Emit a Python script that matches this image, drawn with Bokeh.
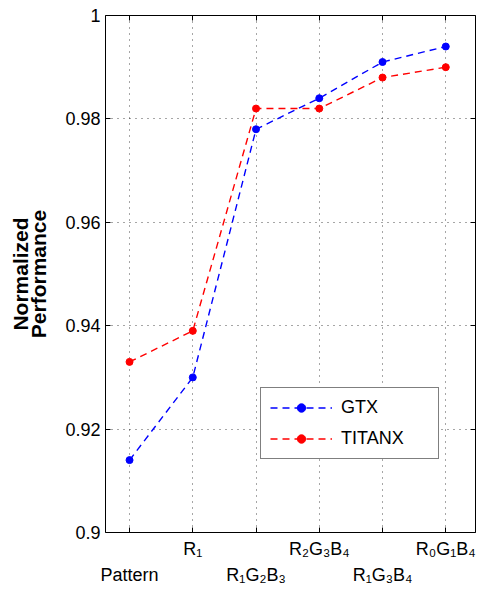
from bokeh.plotting import figure
from bokeh.models import Range1d, LinearAxis, FixedTicker, Legend, LegendItem, CustomJSTickFormatter, Grid
from bokeh.embed import file_html
from bokeh.resources import INLINE

# ---- data ----
patterns = ["Pattern", "R₁", "R₁G₂B₃", "R₂G₃B₄", "R₁G₃B₄", "R₀G₁B₄"]
gtx = [0.914, 0.930, 0.978, 0.984, 0.991, 0.994]
titanx = [0.933, 0.939, 0.982, 0.982, 0.988, 0.990]
y_ticks = [0.9, 0.92, 0.94, 0.96, 0.98, 1.0]
y_tick_labels = ["0.9", "0.92", "0.94", "0.96", "0.98", "1"]
series_names = ["GTX", "TITANX"]

x = list(range(1, len(patterns) + 1))
FONT = "Liberation Sans"
FS = "18px"

p = figure(width=477, height=591, output_backend="svg", toolbar_location=None,
           x_range=Range1d(0.62, 6.47), y_range=Range1d(0.9, 1.0),
           min_border_left=105, min_border_right=2, min_border_top=15, min_border_bottom=59,
           x_axis_type=None, y_axis_type=None)
p.outline_line_color = "black"
p.outline_line_width = 1
p.background_fill_color = "white"
p.border_fill_color = "white"

# upper-row x labels (main bottom axis, ticks at all positions)
upper = {xi: (lab if i % 2 == 1 else "") for i, (xi, lab) in enumerate(zip(x, patterns))}
lower = {xi: lab for i, (xi, lab) in enumerate(zip(x, patterns)) if i % 2 == 0}

xa = LinearAxis(ticker=FixedTicker(ticks=x), major_label_overrides=upper)
xa.axis_line_color = None
xa.major_tick_in = 5
xa.major_tick_out = 0
xa.major_tick_line_color = "black"
xa.minor_tick_line_color = None
xa.major_label_text_font = FONT
xa.major_label_text_font_size = FS
xa.major_label_text_color = "black"
xa.major_label_standoff = 6
p.add_layout(xa, "below")

xa2 = LinearAxis(ticker=FixedTicker(ticks=list(lower.keys())), major_label_overrides=lower)
xa2.axis_line_color = None
xa2.major_tick_line_color = None
xa2.minor_tick_line_color = None
xa2.major_tick_in = 0
xa2.major_tick_out = 0
xa2.major_label_text_font = FONT
xa2.major_label_text_font_size = FS
xa2.major_label_text_color = "black"
xa2.major_label_standoff = 3
p.add_layout(xa2, "below")

ya = LinearAxis(ticker=FixedTicker(ticks=y_ticks),
                major_label_overrides={t: l for t, l in zip(y_ticks, y_tick_labels)})
ya.axis_line_color = None
ya.major_tick_in = 5
ya.major_tick_out = 0
ya.minor_tick_line_color = None
ya.major_label_text_font = FONT
ya.major_label_text_font_size = FS
ya.major_label_text_color = "black"
ya.major_label_standoff = 5
ya.axis_label = "Normalized\nPerformance"
ya.axis_label_text_font = FONT
ya.axis_label_text_font_style = "bold"
ya.axis_label_text_font_size = "21px"
ya.axis_label_text_color = "black"
ya.axis_label_text_line_height = 0.82
ya.axis_label_standoff = 12
p.add_layout(ya, "left")

blank = CustomJSTickFormatter(code="return ''")
xt = LinearAxis(ticker=FixedTicker(ticks=x), formatter=blank)
xt.axis_line_color = None
xt.major_tick_in = 5
xt.major_tick_out = 0
xt.minor_tick_line_color = None
xt.major_label_standoff = 0
p.add_layout(xt, "above")
yr = LinearAxis(ticker=FixedTicker(ticks=y_ticks), formatter=blank)
yr.axis_line_color = None
yr.major_tick_in = 5
yr.major_tick_out = 0
yr.minor_tick_line_color = None
yr.major_label_standoff = 0
p.add_layout(yr, "right")

p.add_layout(Grid(dimension=0, ticker=xa.ticker, grid_line_color="black",
                  grid_line_dash="1 5", grid_line_width=1, grid_line_alpha=0.7))
p.add_layout(Grid(dimension=1, ticker=ya.ticker, grid_line_color="black",
                  grid_line_dash="1 5", grid_line_width=1, grid_line_alpha=0.7))

items = []
for name, vals, col in zip(series_names, [gtx, titanx], ["blue", "red"]):
    l = p.line(x, vals, line_color=col, line_width=1.4, line_dash="7 5")
    s = p.scatter(x, vals, marker="circle", size=7, fill_color=col, line_color=col)
    items.append(LegendItem(label=name, renderers=[l, s]))

leg = Legend(items=items, location=(155, 73), orientation="vertical")
leg.border_line_color = "black"
leg.border_line_width = 1.3
leg.background_fill_color = "white"
leg.background_fill_alpha = 1
leg.label_text_font = FONT
leg.label_text_font_size = FS
leg.label_text_color = "black"
leg.glyph_width = 62
leg.glyph_height = 21
leg.label_standoff = 9
leg.label_width = 88
leg.padding = 9
leg.spacing = 10
leg.margin = 0
p.add_layout(leg)

open("out.html", "w").write(file_html(p, INLINE))
